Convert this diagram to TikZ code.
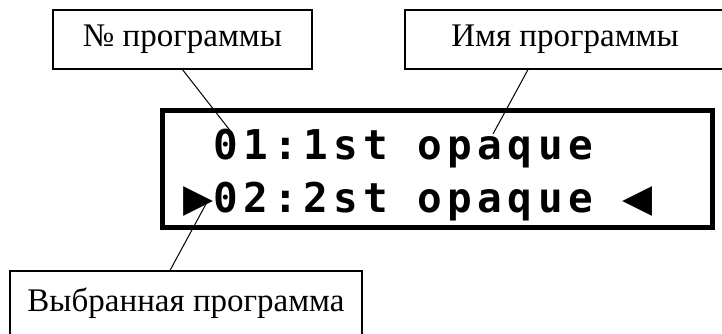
\documentclass[tikz,border=0pt]{standalone}
\usepackage{fontspec}
\setmainfont{Liberation Serif}
\newfontfamily\lcdfont[LetterSpace=13]{DejaVu Sans Mono Bold}
\usepackage{tikz}

\newcommand{\lcdmark}[1]{\makebox[30pt][l]{\raisebox{-2pt}{\fontsize{50}{50}\selectfont #1}}}

\begin{document}
\begin{tikzpicture}[x=1pt,y=-1pt,
	labelbox/.style={draw,line width=1.2pt,inner sep=0pt,font=\fontsize{33}{36}\selectfont},
	lcdframe/.style={draw,line width=5pt,inner sep=0pt},
	lcdtext/.style={inner sep=0pt,anchor=base west,font=\lcdfont\fontsize{41}{44}\selectfont}]
	
	\useasboundingbox (0,0) rectangle (722,334);
	\clip (0,0) rectangle (722,334);
	
	% Draw nodes
	\node[labelbox,minimum width=259pt,minimum height=59pt] (numbox) at (182.5,39.5) {№ программы};
	\node[labelbox,minimum width=320pt,minimum height=59pt] (namebox) at (565,39.5) {Имя программы};
	\node[labelbox,minimum width=352pt,minimum height=64pt] (selbox) at (186,303) {Выбранная программа};
	\node[lcdframe,minimum width=550pt,minimum height=117pt] (lcd) at (437.5,169) {};
	\node[lcdtext] (row1) at (213,159) {01:1st opaque};
	\node[lcdtext] (row2) at (183,212) {\lcdmark{▶}02:2st opaque \lcdmark{◀}};
	
	% Draw pointer ends on the display
	\coordinate (numtip) at (232,133);
	\coordinate (nametip) at (493,134);
	\coordinate (seltip) at (206,204);
	
	% Draw pointers
	\draw[line width=1pt] (numbox.south) to (numtip);
	\draw[line width=1pt] ([xshift=-37pt]namebox.south) to (nametip);
	\draw[line width=1pt] ([xshift=-16pt]selbox.north) to (seltip);
	
\end{tikzpicture}
\end{document}
